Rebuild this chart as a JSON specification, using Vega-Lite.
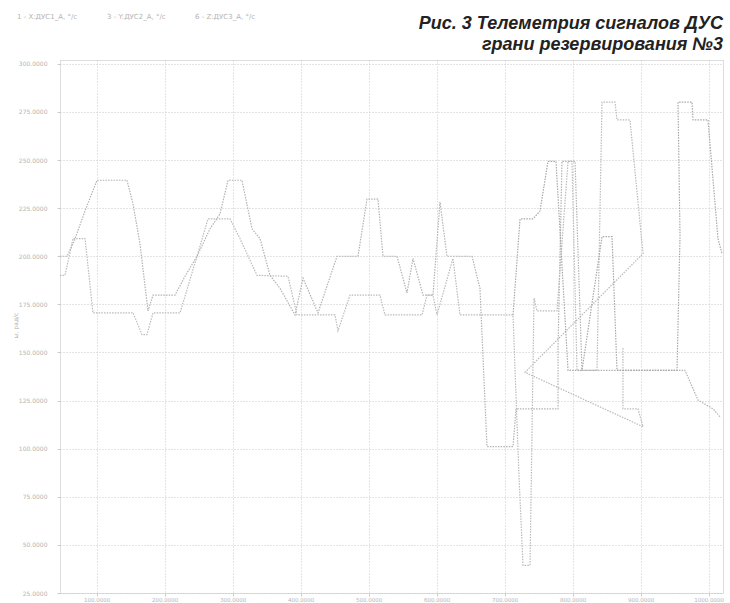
{
  "$schema": "https://vega.github.io/schema/vega-lite/v6.json",
  "width": 663,
  "height": 533,
  "autosize": {"type": "none"},
  "padding": {"left": 60, "top": 60, "right": 7, "bottom": 10},
  "background": "white",
  "title": {
    "text": ["Рис. 3 Телеметрия сигналов ДУС", "грани резервирования №3"],
    "anchor": "end",
    "frame": "group",
    "orient": "top",
    "offset": 8,
    "dy": 49,
    "font": "Liberation Sans",
    "fontSize": 18,
    "fontWeight": "bold",
    "fontStyle": "italic",
    "color": "#222222",
    "lineHeight": 21
  },
  "config": {
    "view": {"stroke": "#bdbdbd", "strokeDash": [1, 1], "strokeWidth": 1},
    "axis": {
      "gridColor": "#c8c8c8",
      "gridDash": [1, 2],
      "gridWidth": 1,
      "domain": false,
      "labelColor": "#b4b4b4",
      "labelFont": "DejaVu Sans",
      "labelFontSize": 6,
      "tickColor": "#cccccc",
      "tickSize": 3,
      "titleColor": "#b4b4b4",
      "titleFont": "DejaVu Sans",
      "titleFontSize": 6,
      "titleFontWeight": "normal"
    }
  },
  "data": {
    "values": [
      {"series": "1 - X:ДУС1_А, °/с", "i": 1, "t": 46, "v": 200},
      {"series": "1 - X:ДУС1_А, °/с", "i": 2, "t": 56.3, "v": 200},
      {"series": "1 - X:ДУС1_А, °/с", "i": 3, "t": 66.6, "v": 207.6},
      {"series": "1 - X:ДУС1_А, °/с", "i": 4, "t": 82.8, "v": 223.6},
      {"series": "1 - X:ДУС1_А, °/с", "i": 5, "t": 100.4, "v": 239.5},
      {"series": "1 - X:ДУС1_А, °/с", "i": 6, "t": 144.5, "v": 239.5},
      {"series": "1 - X:ДУС1_А, °/с", "i": 7, "t": 153.4, "v": 227.2},
      {"series": "1 - X:ДУС1_А, °/с", "i": 8, "t": 163.6, "v": 206.6},
      {"series": "1 - X:ДУС1_А, °/с", "i": 9, "t": 175.4, "v": 171.6},
      {"series": "1 - X:ДУС1_А, °/с", "i": 10, "t": 182.8, "v": 179.8},
      {"series": "1 - X:ДУС1_А, °/с", "i": 11, "t": 215.1, "v": 179.8},
      {"series": "1 - X:ДУС1_А, °/с", "i": 12, "t": 229.8, "v": 189.6},
      {"series": "1 - X:ДУС1_А, °/с", "i": 13, "t": 247.5, "v": 200},
      {"series": "1 - X:ДУС1_А, °/с", "i": 14, "t": 266.6, "v": 214.3},
      {"series": "1 - X:ДУС1_А, °/с", "i": 15, "t": 281.3, "v": 222},
      {"series": "1 - X:ДУС1_А, °/с", "i": 16, "t": 293.1, "v": 239.5},
      {"series": "1 - X:ДУС1_А, °/с", "i": 17, "t": 313.6, "v": 239.5},
      {"series": "1 - X:ДУС1_А, °/с", "i": 18, "t": 328.4, "v": 214.3},
      {"series": "1 - X:ДУС1_А, °/с", "i": 19, "t": 340.1, "v": 209.2},
      {"series": "1 - X:ДУС1_А, °/с", "i": 20, "t": 354.8, "v": 190.1},
      {"series": "1 - X:ДУС1_А, °/с", "i": 21, "t": 369.5, "v": 183.4},
      {"series": "1 - X:ДУС1_А, °/с", "i": 22, "t": 391.6, "v": 169.5},
      {"series": "1 - X:ДУС1_А, °/с", "i": 23, "t": 403.4, "v": 188.6},
      {"series": "1 - X:ДУС1_А, °/с", "i": 24, "t": 425.4, "v": 170.6},
      {"series": "1 - X:ДУС1_А, °/с", "i": 25, "t": 453.4, "v": 200},
      {"series": "1 - X:ДУС1_А, °/с", "i": 26, "t": 484.2, "v": 200},
      {"series": "1 - X:ДУС1_А, °/с", "i": 27, "t": 497.5, "v": 229.7},
      {"series": "1 - X:ДУС1_А, °/с", "i": 28, "t": 513.6, "v": 229.7},
      {"series": "1 - X:ДУС1_А, °/с", "i": 29, "t": 521, "v": 200},
      {"series": "1 - X:ДУС1_А, °/с", "i": 30, "t": 541.6, "v": 200},
      {"series": "1 - X:ДУС1_А, °/с", "i": 31, "t": 556.3, "v": 180.9},
      {"series": "1 - X:ДУС1_А, °/с", "i": 32, "t": 565.1, "v": 198.9},
      {"series": "1 - X:ДУС1_А, °/с", "i": 33, "t": 579.8, "v": 179.8},
      {"series": "1 - X:ДУС1_А, °/с", "i": 34, "t": 594.5, "v": 179.8},
      {"series": "1 - X:ДУС1_А, °/с", "i": 35, "t": 604.8, "v": 228.2},
      {"series": "1 - X:ДУС1_А, °/с", "i": 36, "t": 615.1, "v": 200},
      {"series": "1 - X:ДУС1_А, °/с", "i": 37, "t": 651.9, "v": 200},
      {"series": "1 - X:ДУС1_А, °/с", "i": 38, "t": 663.6, "v": 183.4},
      {"series": "1 - X:ДУС1_А, °/с", "i": 39, "t": 673.9, "v": 101.1},
      {"series": "1 - X:ДУС1_А, °/с", "i": 40, "t": 712.2, "v": 101.1},
      {"series": "1 - X:ДУС1_А, °/с", "i": 41, "t": 716.6, "v": 120.7},
      {"series": "1 - X:ДУС1_А, °/с", "i": 42, "t": 778.4, "v": 120.7},
      {"series": "1 - X:ДУС1_А, °/с", "i": 43, "t": 778.4, "v": 152.6},
      {"series": "1 - X:ДУС1_А, °/с", "i": 44, "t": 784.2, "v": 249.3},
      {"series": "1 - X:ДУС1_А, °/с", "i": 45, "t": 803.4, "v": 249.3},
      {"series": "1 - X:ДУС1_А, °/с", "i": 46, "t": 813.6, "v": 140.7},
      {"series": "1 - X:ДУС1_А, °/с", "i": 47, "t": 965.1, "v": 140.7},
      {"series": "1 - X:ДУС1_А, °/с", "i": 48, "t": 984.2, "v": 125.3},
      {"series": "1 - X:ДУС1_А, °/с", "i": 49, "t": 1006.3, "v": 120.7},
      {"series": "1 - X:ДУС1_А, °/с", "i": 50, "t": 1016.6, "v": 116.6},

      {"series": "3 - Y:ДУС2_А, °/с", "i": 1, "t": 46, "v": 190.1},
      {"series": "3 - Y:ДУС2_А, °/с", "i": 2, "t": 53.4, "v": 190.1},
      {"series": "3 - Y:ДУС2_А, °/с", "i": 3, "t": 65.1, "v": 209.2},
      {"series": "3 - Y:ДУС2_А, °/с", "i": 4, "t": 82.8, "v": 209.2},
      {"series": "3 - Y:ДУС2_А, °/с", "i": 5, "t": 94.5, "v": 170.6},
      {"series": "3 - Y:ДУС2_А, °/с", "i": 6, "t": 153.4, "v": 170.6},
      {"series": "3 - Y:ДУС2_А, °/с", "i": 7, "t": 166.6, "v": 159.3},
      {"series": "3 - Y:ДУС2_А, °/с", "i": 8, "t": 173.9, "v": 159.3},
      {"series": "3 - Y:ДУС2_А, °/с", "i": 9, "t": 182.8, "v": 170.6},
      {"series": "3 - Y:ДУС2_А, °/с", "i": 10, "t": 222.5, "v": 170.6},
      {"series": "3 - Y:ДУС2_А, °/с", "i": 11, "t": 247.5, "v": 200},
      {"series": "3 - Y:ДУС2_А, °/с", "i": 12, "t": 263.6, "v": 219.4},
      {"series": "3 - Y:ДУС2_А, °/с", "i": 13, "t": 296, "v": 219.4},
      {"series": "3 - Y:ДУС2_А, °/с", "i": 14, "t": 310.7, "v": 209.2},
      {"series": "3 - Y:ДУС2_А, °/с", "i": 15, "t": 335.7, "v": 190.1},
      {"series": "3 - Y:ДУС2_А, °/с", "i": 16, "t": 381.3, "v": 189.6},
      {"series": "3 - Y:ДУС2_А, °/с", "i": 17, "t": 394.5, "v": 169.5},
      {"series": "3 - Y:ДУС2_А, °/с", "i": 18, "t": 450.4, "v": 169.5},
      {"series": "3 - Y:ДУС2_А, °/с", "i": 19, "t": 454.8, "v": 161.3},
      {"series": "3 - Y:ДУС2_А, °/с", "i": 20, "t": 472.5, "v": 179.8},
      {"series": "3 - Y:ДУС2_А, °/с", "i": 21, "t": 516.6, "v": 179.8},
      {"series": "3 - Y:ДУС2_А, °/с", "i": 22, "t": 523.9, "v": 169.5},
      {"series": "3 - Y:ДУС2_А, °/с", "i": 23, "t": 578.4, "v": 169.5},
      {"series": "3 - Y:ДУС2_А, °/с", "i": 24, "t": 585.7, "v": 179.8},
      {"series": "3 - Y:ДУС2_А, °/с", "i": 25, "t": 594.5, "v": 179.8},
      {"series": "3 - Y:ДУС2_А, °/с", "i": 26, "t": 600.4, "v": 169.5},
      {"series": "3 - Y:ДУС2_А, °/с", "i": 27, "t": 623.9, "v": 198.9},
      {"series": "3 - Y:ДУС2_А, °/с", "i": 28, "t": 634.2, "v": 169.5},
      {"series": "3 - Y:ДУС2_А, °/с", "i": 29, "t": 712.2, "v": 169.5},
      {"series": "3 - Y:ДУС2_А, °/с", "i": 30, "t": 721, "v": 85.7},
      {"series": "3 - Y:ДУС2_А, °/с", "i": 31, "t": 726.9, "v": 39.4},
      {"series": "3 - Y:ДУС2_А, °/с", "i": 32, "t": 737.2, "v": 39.4},
      {"series": "3 - Y:ДУС2_А, °/с", "i": 33, "t": 743.1, "v": 178.3},
      {"series": "3 - Y:ДУС2_А, °/с", "i": 34, "t": 747.5, "v": 171.6},
      {"series": "3 - Y:ДУС2_А, °/с", "i": 35, "t": 776.9, "v": 171.6},
      {"series": "3 - Y:ДУС2_А, °/с", "i": 36, "t": 793.1, "v": 249.3},
      {"series": "3 - Y:ДУС2_А, °/с", "i": 37, "t": 798.9, "v": 249.3},
      {"series": "3 - Y:ДУС2_А, °/с", "i": 38, "t": 806.3, "v": 140.7},
      {"series": "3 - Y:ДУС2_А, °/с", "i": 39, "t": 835.7, "v": 140.7},
      {"series": "3 - Y:ДУС2_А, °/с", "i": 40, "t": 843.1, "v": 280.1},
      {"series": "3 - Y:ДУС2_А, °/с", "i": 41, "t": 862.2, "v": 280.1},
      {"series": "3 - Y:ДУС2_А, °/с", "i": 42, "t": 865.1, "v": 270.9},
      {"series": "3 - Y:ДУС2_А, °/с", "i": 43, "t": 884.2, "v": 270.9},
      {"series": "3 - Y:ДУС2_А, °/с", "i": 44, "t": 903.4, "v": 201.4},
      {"series": "3 - Y:ДУС2_А, °/с", "i": 45, "t": 729.8, "v": 139.7},
      {"series": "3 - Y:ДУС2_А, °/с", "i": 46, "t": 903.4, "v": 111.4},
      {"series": "3 - Y:ДУС2_А, °/с", "i": 47, "t": 896, "v": 120.7},
      {"series": "3 - Y:ДУС2_А, °/с", "i": 48, "t": 873.9, "v": 120.7},
      {"series": "3 - Y:ДУС2_А, °/с", "i": 49, "t": 873.9, "v": 152.6},

      {"series": "6 - Z:ДУС3_А, °/с", "i": 1, "t": 712.2, "v": 169.5},
      {"series": "6 - Z:ДУС3_А, °/с", "i": 2, "t": 722.5, "v": 219.4},
      {"series": "6 - Z:ДУС3_А, °/с", "i": 3, "t": 741.6, "v": 219.4},
      {"series": "6 - Z:ДУС3_А, °/с", "i": 4, "t": 751.9, "v": 223.6},
      {"series": "6 - Z:ДУС3_А, °/с", "i": 5, "t": 763.6, "v": 249.3},
      {"series": "6 - Z:ДУС3_А, °/с", "i": 6, "t": 775.4, "v": 249.3},
      {"series": "6 - Z:ДУС3_А, °/с", "i": 7, "t": 793.1, "v": 140.7},
      {"series": "6 - Z:ДУС3_А, °/с", "i": 8, "t": 813.6, "v": 140.7},
      {"series": "6 - Z:ДУС3_А, °/с", "i": 9, "t": 843.1, "v": 210.2},
      {"series": "6 - Z:ДУС3_А, °/с", "i": 10, "t": 857.8, "v": 210.2},
      {"series": "6 - Z:ДУС3_А, °/с", "i": 11, "t": 865.1, "v": 140.7},
      {"series": "6 - Z:ДУС3_А, °/с", "i": 12, "t": 953.4, "v": 140.7},
      {"series": "6 - Z:ДУС3_А, °/с", "i": 13, "t": 957.8, "v": 210.7},
      {"series": "6 - Z:ДУС3_А, °/с", "i": 14, "t": 954.8, "v": 280.1},
      {"series": "6 - Z:ДУС3_А, °/с", "i": 15, "t": 975.4, "v": 280.1},
      {"series": "6 - Z:ДУС3_А, °/с", "i": 16, "t": 976.9, "v": 270.9},
      {"series": "6 - Z:ДУС3_А, °/с", "i": 17, "t": 998.9, "v": 270.9},
      {"series": "6 - Z:ДУС3_А, °/с", "i": 18, "t": 1013.6, "v": 209.2},
      {"series": "6 - Z:ДУС3_А, °/с", "i": 19, "t": 1019.5, "v": 201.4}
    ]
  },
  "mark": {"type": "line", "strokeWidth": 1.2, "strokeDash": [1.5, 1.2], "clip": true},
  "encoding": {
    "x": {
      "field": "t",
      "type": "quantitative",
      "scale": {"domain": [46, 1021], "nice": false, "zero": false},
      "axis": {
        "values": [100, 200, 300, 400, 500, 600, 700, 800, 900, 1000],
        "format": ".4f",
        "title": null,
        "labelPadding": 1,
        "labelFontSize": 5.5,
        "labelAlign": "center"
      }
    },
    "y": {
      "field": "v",
      "type": "quantitative",
      "scale": {"domain": [25, 302], "nice": false, "zero": false},
      "axis": {
        "values": [25, 50, 75, 100, 125, 150, 175, 200, 225, 250, 275, 300],
        "format": ".4f",
        "title": "ω, рад/с",
        "titleX": -42,
        "titleY": 265,
        "titleAngle": -90,
        "labelPadding": 10
      }
    },
    "color": {
      "field": "series",
      "type": "nominal",
      "scale": {"range": ["#b2b2b2", "#bababa", "#a8a8a8"]},
      "legend": {
        "orient": "none",
        "direction": "horizontal",
        "legendX": -50,
        "legendY": -47,
        "title": null,
        "symbolSize": 0,
        "symbolStrokeWidth": 0,
        "labelOffset": 0,
        "labelFont": "DejaVu Sans",
        "labelFontSize": 7,
        "labelColor": "#b4b4b4",
        "columnPadding": 22,
        "labelLimit": 200
      }
    },
    "order": {"field": "i", "type": "quantitative"}
  }
}
